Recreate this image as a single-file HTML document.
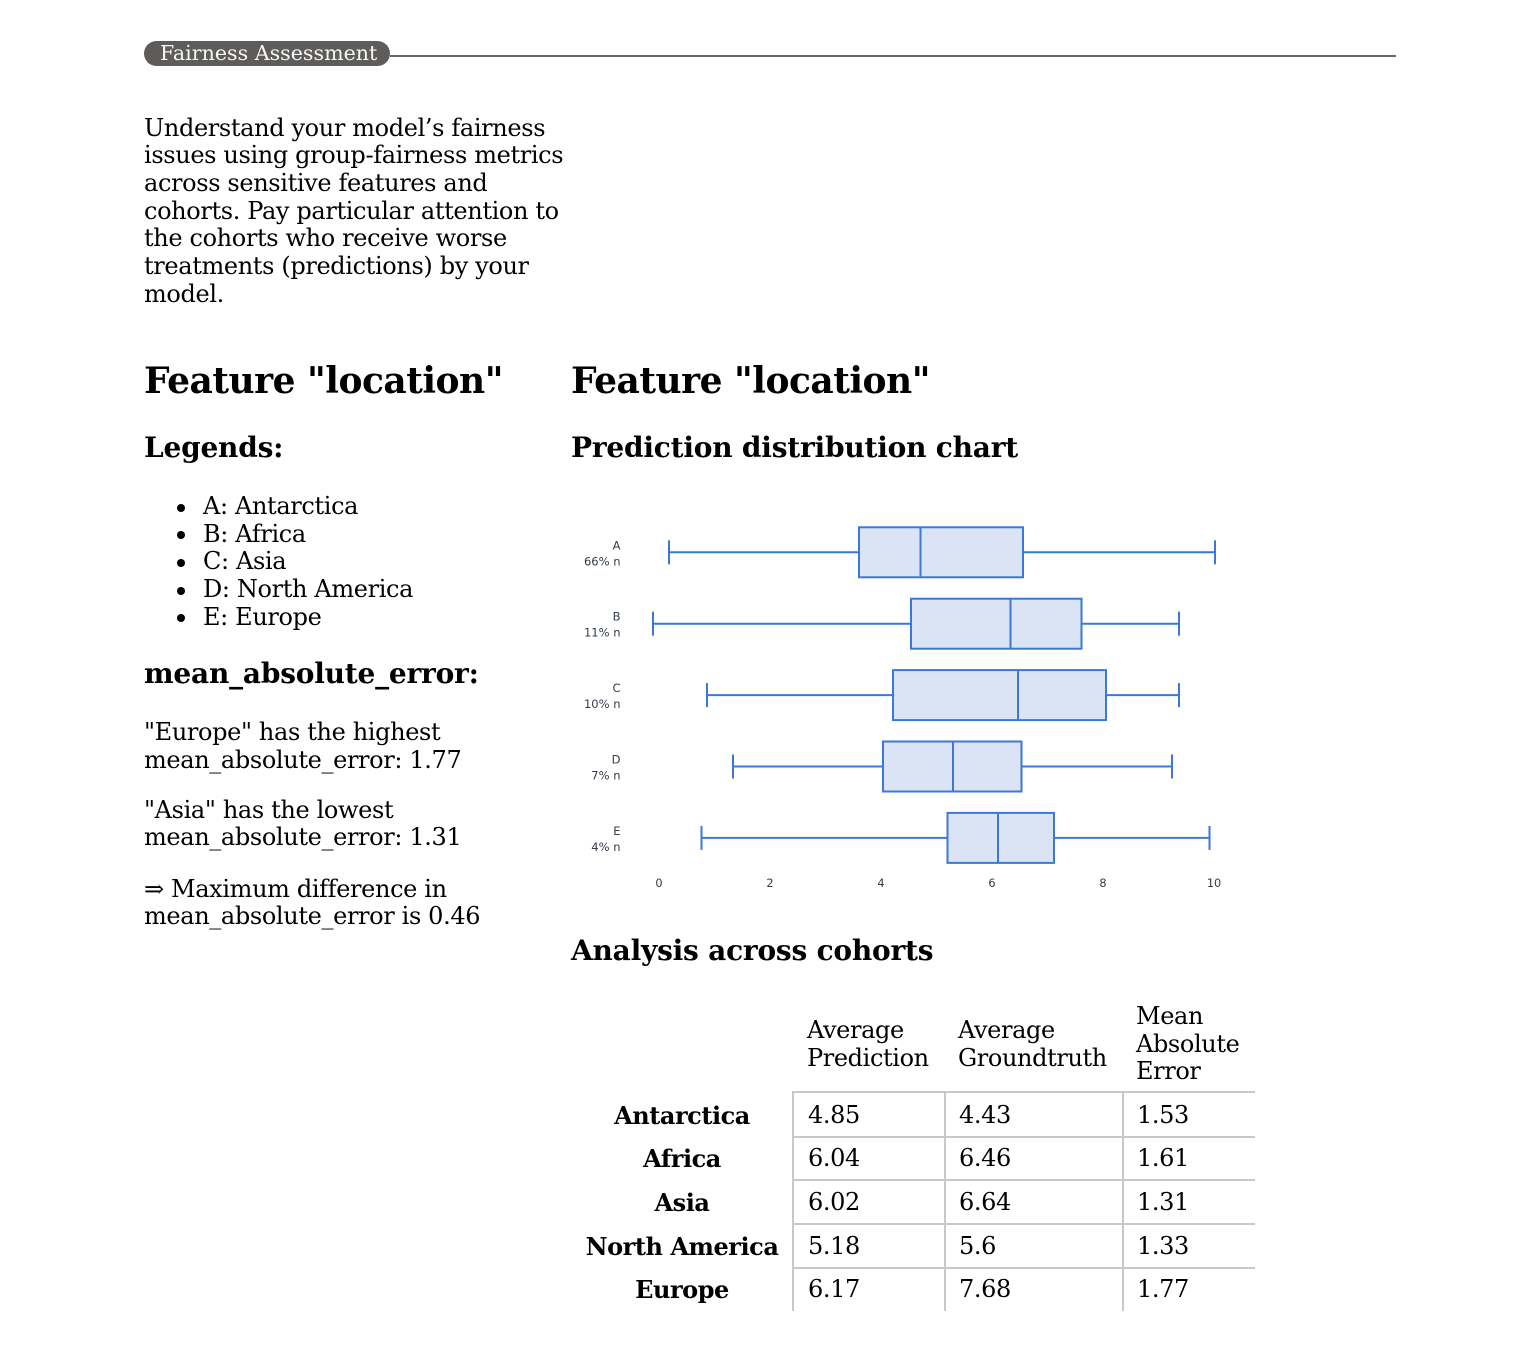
<!DOCTYPE html>
<html>
<head>
<meta charset="utf-8">
<style>
  html, body { margin:0; padding:0; background:#fff; }
  body { width:1539px; height:1357px; position:relative; overflow:hidden;
         font-family:"DejaVu Serif","Liberation Serif",serif; color:#000; }
  .a { position:absolute; white-space:nowrap; }
  .t24 { font-size:24px; line-height:27.7px; letter-spacing:-0.36px; }
  .h2 { font-size:36px; font-weight:bold; line-height:41.9px; letter-spacing:-0.5px; }
  .h3 { font-size:28px; font-weight:bold; line-height:32.6px; letter-spacing:-0.21px; }
  .pill { position:absolute; left:144px; top:41px; width:246px; height:25px; border-radius:12.5px;
          background:#5e5c5a; }
  .pilltxt { position:absolute; left:160px; top:41.3px; font-size:20.6px; line-height:25px; color:#f6f6f6; white-space:nowrap; }
  .rule { position:absolute; left:390px; top:55px; width:1006px; height:2px; background:#666; }
  .bul { position:absolute; width:8px; height:8px; border-radius:50%; background:#000; left:177px; }
  .lbl { position:absolute; font-size:24px; line-height:27.7px; font-weight:bold; text-align:center; width:222px; left:571px; white-space:nowrap; letter-spacing:-0.45px; }
  .val { position:absolute; font-size:24px; line-height:27.7px; white-space:nowrap; letter-spacing:-0.38px; }
  .hl { position:absolute; height:2px; background:#c8c8c8; left:792px; width:463px; }
  .vl { position:absolute; width:2px; background:#c8c8c8; top:1091px; height:220px; }
  svg { position:absolute; left:0; top:0; }
</style>
</head>
<body>

<div class="pill"></div>
<div class="pilltxt">Fairness Assessment</div>
<div class="rule"></div>

<div class="a t24" style="left:144px; top:114.6px;">Understand your model’s fairness<br>issues using group-fairness metrics<br>across sensitive features and<br>cohorts. Pay particular attention to<br>the cohorts who receive worse<br>treatments (predictions) by your<br>model.</div>

<div class="a h2" style="left:144px; top:360.6px;">Feature "location"</div>
<div class="a h3" style="left:144px; top:432.3px;">Legends:</div>

<div class="bul" style="top:503.5px;"></div>
<div class="bul" style="top:531.2px;"></div>
<div class="bul" style="top:558.9px;"></div>
<div class="bul" style="top:586.6px;"></div>
<div class="bul" style="top:614.3px;"></div>
<div class="a t24" style="left:203px; top:493px;">A: Antarctica<br>B: Africa<br>C: Asia<br>D: North America<br>E: Europe</div>

<div class="a h3" style="left:144px; top:658.3px;">mean_absolute_error:</div>
<div class="a t24" style="left:144px; top:718.9px;">"Europe" has the highest<br>mean_absolute_error: 1.77</div>
<div class="a t24" style="left:144px; top:796.5px;">"Asia" has the lowest<br>mean_absolute_error: 1.31</div>
<div class="a t24" style="left:144px; top:875.5px;">⇒ Maximum difference in<br>mean_absolute_error is 0.46</div>

<div class="a h2" style="left:571px; top:360.6px;">Feature "location"</div>
<div class="a h3" style="left:571px; top:432.3px;">Prediction distribution chart</div>
<div class="a h3" style="left:571px; top:935px;">Analysis across cohorts</div>

<svg width="1539" height="1357" viewBox="0 0 1539 1357" xmlns="http://www.w3.org/2000/svg">
  <g font-family="DejaVu Sans, Liberation Sans, sans-serif" font-size="11.5" fill="#333c4a" text-anchor="end">
    <text x="620.5" y="549.3">A</text><text x="620.5" y="565.3">66% n</text>
    <text x="620.5" y="620.7">B</text><text x="620.5" y="636.7">11% n</text>
    <text x="620.5" y="692.1">C</text><text x="620.5" y="708.1">10% n</text>
    <text x="620.5" y="763.5">D</text><text x="620.5" y="779.5">7% n</text>
    <text x="620.5" y="834.9">E</text><text x="620.5" y="850.9">4% n</text>
  </g>
  <g font-family="DejaVu Sans, Liberation Sans, sans-serif" font-size="11.3" fill="#333c4a" text-anchor="middle">
    <text x="659" y="887">0</text>
    <text x="770" y="887">2</text>
    <text x="881" y="887">4</text>
    <text x="992" y="887">6</text>
    <text x="1103" y="887">8</text>
    <text x="1214" y="887">10</text>
  </g>
  <g stroke="#3b78d8" stroke-width="2" fill="#dbe4f5">
    <!-- A -->
    <line x1="669" y1="552.3" x2="859" y2="552.3"/>
    <line x1="1023" y1="552.3" x2="1215" y2="552.3"/>
    <line x1="669" y1="540.3" x2="669" y2="564.3"/>
    <line x1="1215" y1="540.3" x2="1215" y2="564.3"/>
    <rect x="859" y="527.3" width="164" height="50"/>
    <line x1="920.5" y1="527.3" x2="920.5" y2="577.3"/>
    <!-- B -->
    <line x1="653" y1="623.7" x2="911" y2="623.7"/>
    <line x1="1081.5" y1="623.7" x2="1179" y2="623.7"/>
    <line x1="653" y1="611.7" x2="653" y2="635.7"/>
    <line x1="1179" y1="611.7" x2="1179" y2="635.7"/>
    <rect x="911" y="598.7" width="170.5" height="50"/>
    <line x1="1010.5" y1="598.7" x2="1010.5" y2="648.7"/>
    <!-- C -->
    <line x1="707" y1="695.1" x2="893" y2="695.1"/>
    <line x1="1106" y1="695.1" x2="1179" y2="695.1"/>
    <line x1="707" y1="683.1" x2="707" y2="707.1"/>
    <line x1="1179" y1="683.1" x2="1179" y2="707.1"/>
    <rect x="893" y="670.1" width="213" height="50"/>
    <line x1="1018" y1="670.1" x2="1018" y2="720.1"/>
    <!-- D -->
    <line x1="733" y1="766.5" x2="883" y2="766.5"/>
    <line x1="1021.5" y1="766.5" x2="1172" y2="766.5"/>
    <line x1="733" y1="754.5" x2="733" y2="778.5"/>
    <line x1="1172" y1="754.5" x2="1172" y2="778.5"/>
    <rect x="883" y="741.5" width="138.5" height="50"/>
    <line x1="953" y1="741.5" x2="953" y2="791.5"/>
    <!-- E -->
    <line x1="701.5" y1="837.9" x2="947.5" y2="837.9"/>
    <line x1="1054" y1="837.9" x2="1209.5" y2="837.9"/>
    <line x1="701.5" y1="825.9" x2="701.5" y2="849.9"/>
    <line x1="1209.5" y1="825.9" x2="1209.5" y2="849.9"/>
    <rect x="947.5" y="812.9" width="106.5" height="50"/>
    <line x1="998" y1="812.9" x2="998" y2="862.9"/>
  </g>
</svg>

<!-- table header -->
<div class="val" style="left:807px; top:1017.2px;">Average<br>Prediction</div>
<div class="val" style="left:958px; top:1017.2px;">Average<br>Groundtruth</div>
<div class="val" style="left:1136px; top:1002.9px;">Mean<br>Absolute<br>Error</div>

<!-- table lines -->
<div class="hl" style="top:1091.3px;"></div>
<div class="hl" style="top:1135.7px;"></div>
<div class="hl" style="top:1179.2px;"></div>
<div class="hl" style="top:1222.9px;"></div>
<div class="hl" style="top:1266.6px;"></div>
<div class="vl" style="left:792.3px;"></div>
<div class="vl" style="left:944px;"></div>
<div class="vl" style="left:1122.3px;"></div>

<!-- rows -->
<div class="lbl" style="top:1101.5px;">Antarctica</div>
<div class="lbl" style="top:1145.2px;">Africa</div>
<div class="lbl" style="top:1188.9px;">Asia</div>
<div class="lbl" style="top:1232.6px;">North America</div>
<div class="lbl" style="top:1276.3px;">Europe</div>

<div class="val" style="left:808px; top:1101.5px;">4.85</div>
<div class="val" style="left:959px; top:1101.5px;">4.43</div>
<div class="val" style="left:1137px; top:1101.5px;">1.53</div>

<div class="val" style="left:808px; top:1145.2px;">6.04</div>
<div class="val" style="left:959px; top:1145.2px;">6.46</div>
<div class="val" style="left:1137px; top:1145.2px;">1.61</div>

<div class="val" style="left:808px; top:1188.9px;">6.02</div>
<div class="val" style="left:959px; top:1188.9px;">6.64</div>
<div class="val" style="left:1137px; top:1188.9px;">1.31</div>

<div class="val" style="left:808px; top:1232.6px;">5.18</div>
<div class="val" style="left:959px; top:1232.6px;">5.6</div>
<div class="val" style="left:1137px; top:1232.6px;">1.33</div>

<div class="val" style="left:808px; top:1276.3px;">6.17</div>
<div class="val" style="left:959px; top:1276.3px;">7.68</div>
<div class="val" style="left:1137px; top:1276.3px;">1.77</div>

</body>
</html>
